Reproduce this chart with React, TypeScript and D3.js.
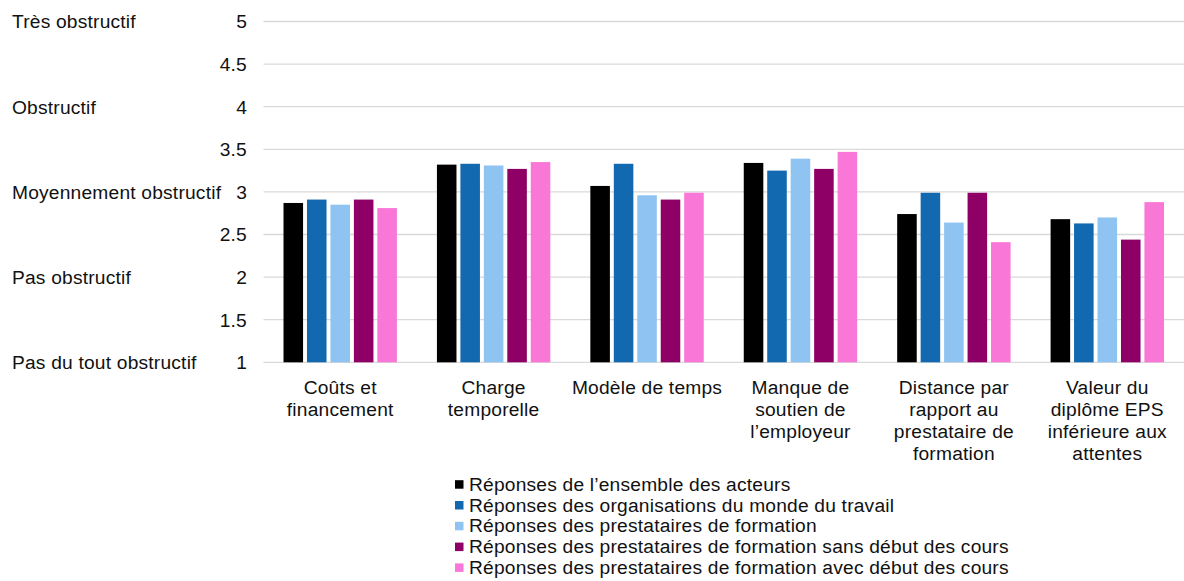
import { useEffect, useRef } from "react";
import * as d3 from "d3";

const categories = [
  ["Coûts et", "financement"],
  ["Charge", "temporelle"],
  ["Modèle de temps"],
  ["Manque de", "soutien de", "l’employeur"],
  ["Distance par", "rapport au", "prestataire de", "formation"],
  ["Valeur du", "diplôme EPS", "inférieure aux", "attentes"],
];

const seriesNames = [
  "Réponses de l’ensemble des acteurs",
  "Réponses des organisations du monde du travail",
  "Réponses des prestataires de formation",
  "Réponses des prestataires de formation sans début des cours",
  "Réponses des prestataires de formation avec début des cours",
];

const seriesColors = ["#000000", "#1269b0", "#8ec3f2", "#8f0066", "#f977d6"];

const ensemble = [2.87, 3.32, 3.07, 3.34, 2.74, 2.68];
const orgaMonde = [2.91, 3.33, 3.33, 3.25, 2.99, 2.63];
const prestataires = [2.85, 3.31, 2.96, 3.39, 2.64, 2.7];
const sansDebut = [2.91, 3.27, 2.91, 3.27, 2.99, 2.44];
const avecDebut = [2.81, 3.35, 2.99, 3.47, 2.41, 2.88];

const seriesValues = [ensemble, orgaMonde, prestataires, sansDebut, avecDebut];

const yTicks = [1, 1.5, 2, 2.5, 3, 3.5, 4, 4.5, 5];
const levelLabels = [
  { value: 5, label: "Très obstructif" },
  { value: 4, label: "Obstructif" },
  { value: 3, label: "Moyennement obstructif" },
  { value: 2, label: "Pas obstructif" },
  { value: 1, label: "Pas du tout obstructif" },
];

const width = 1184;
const height = 581;
const font = "'Liberation Sans', Arial, sans-serif";
const fontSize = "19.2px";
const spacing = "0.2px";
const textColor = "#111111";

export default function App() {
  const svgRef = useRef<SVGSVGElement>(null);

  useEffect(() => {
    if (!svgRef.current) return;
    const svg = d3.select(svgRef.current);
    svg.selectAll("*").remove();

    const plotLeft = 263.5;
    const plotRight = 1184;
    const plotTop = 21.5;
    const plotBottom = 362.3;

    const xScale = d3
      .scaleBand<number>()
      .domain(categories.map((_, i) => i))
      .range([plotLeft, plotRight]);

    const xInner = d3
      .scaleBand<number>()
      .domain(seriesNames.map((_, i) => i))
      .range([0, xScale.bandwidth()])
      .paddingInner(0.1667)
      .paddingOuter(0.853);

    const yScale = d3.scaleLinear().domain([1, 5]).range([plotBottom, plotTop]);

    const addText = () =>
      svg
        .append("text")
        .attr("font-family", font)
        .attr("font-size", fontSize)
        .attr("letter-spacing", spacing)
        .attr("fill", textColor);

    // Grid lines
    yTicks.forEach((tick) => {
      svg
        .append("line")
        .attr("x1", plotLeft)
        .attr("x2", plotRight)
        .attr("y1", yScale(tick))
        .attr("y2", yScale(tick))
        .attr("stroke", "#d9d9d9")
        .attr("stroke-width", 1.3);
    });

    // Tick numbers
    yTicks.forEach((tick) => {
      addText()
        .attr("x", 247)
        .attr("y", yScale(tick))
        .attr("dy", "0.36em")
        .attr("text-anchor", "end")
        .text(String(tick));
    });

    // Level labels
    levelLabels.forEach((d) => {
      addText()
        .attr("x", 12)
        .attr("y", yScale(d.value))
        .attr("dy", "0.36em")
        .text(d.label);
    });

    // Bars
    seriesValues.forEach((values, s) => {
      svg
        .append("g")
        .selectAll("rect")
        .data(values)
        .join("rect")
        .attr("x", (_, i) => (xScale(i) ?? 0) + (xInner(s) ?? 0))
        .attr("y", (d) => yScale(d))
        .attr("width", xInner.bandwidth())
        .attr("height", (d) => yScale(1) - yScale(d))
        .attr("fill", seriesColors[s]);
    });

    // Category labels
    categories.forEach((lines, i) => {
      const t = addText().attr("text-anchor", "middle");
      lines.forEach((line, j) => {
        t.append("tspan")
          .attr("x", (xScale(i) ?? 0) + xScale.bandwidth() / 2)
          .attr("y", 394.3 + j * 22)
          .text(line);
      });
    });

    // Legend
    seriesNames.forEach((name, s) => {
      const y = 490.7 + s * 20.8;
      svg
        .append("rect")
        .attr("x", 455)
        .attr("y", y - 10.5)
        .attr("width", 8.5)
        .attr("height", 8.5)
        .attr("fill", seriesColors[s]);
      addText().attr("x", 469).attr("y", y).text(name);
    });
  }, []);

  return (
    <svg
      ref={svgRef}
      width={width}
      height={height}
      style={{ position: "absolute", left: 0, top: 0, background: "#fff" }}
    />
  );
}
